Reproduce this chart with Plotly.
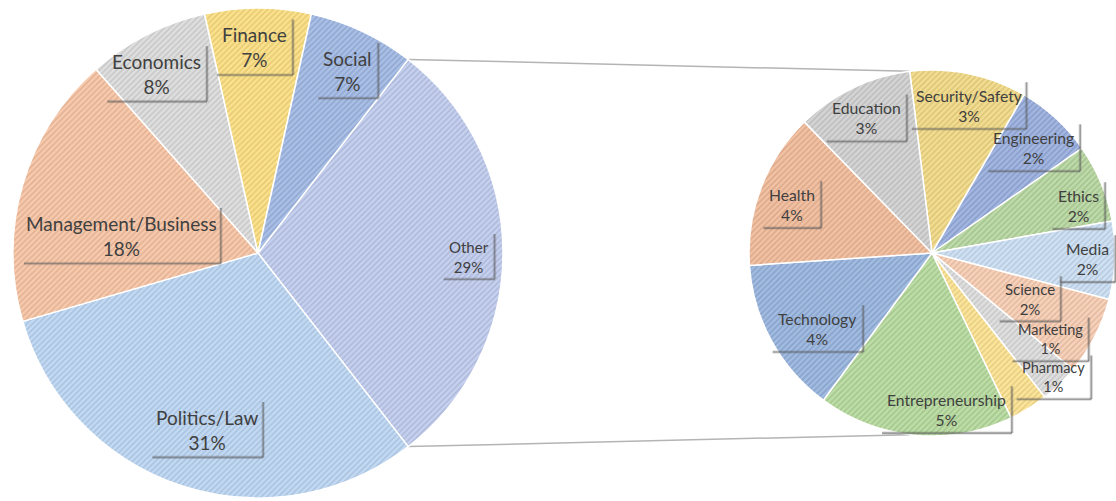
import math
import plotly.graph_objects as go

W, H = 1116, 501

# Main pie: share of all items per field (percent)
main_labels = ["Other", "Politics/Law", "Management/Business", "Economics", "Finance", "Social"]
main_values = [29, 31, 18, 8, 7, 7]
main_colors = ["#b3c1ea", "#afcdf0", "#f6b893", "#d4d4d4", "#fbd869", "#8fabdf"]

# Secondary pie: breakdown of "Other" (percent of all items)
sub_labels = ["Security/Safety", "Engineering", "Ethics", "Media", "Science", "Marketing",
              "Pharmacy", "Entrepreneurship", "Technology", "Health", "Education"]
sub_values = [3, 2, 2, 2, 2, 1, 1, 5, 4, 4, 3]
sub_colors = ["#eed26e", "#869fd8", "#a9cf8d", "#c0d8f0", "#f6c3a4", "#d6d6d6",
              "#fbdc7b", "#a9d38b", "#84a6d8", "#eead87", "#c7c7c7"]

TEXT_COLOR = "#404040"
FONT = "Lato, Carlito, Calibri, sans-serif"
MAIN_FS, SUB_FS = 19, 15.7
FS_OVERRIDE = {"Other": 15, "Science": 15, "Marketing": 14.5, "Pharmacy": 14.5}

# pie geometry (pixels)
MAIN_CX, MAIN_CY, MAIN_R = 258, 253, 245
SUB_CX, SUB_CY, SUB_R = 932, 253, 183
SUB_START = 97  # math angle (deg) where the first secondary slice starts

# label placement: (fraction of radius, angular nudge in degrees)
MAIN_PLACE = {"Other": (0.86, -1), "Politics/Law": (0.75, 2), "Management/Business": (0.56, 9),
              "Economics": (0.84, 2.5), "Finance": (0.84, 1), "Social": (0.83, -1)}
SUB_PLACE = {"Security/Safety": (0.83, -2.4), "Engineering": (0.80, -1.4), "Ethics": (0.84, -4.6),
             "Media": (0.85, 0.2), "Science": (0.59, 2), "Marketing": (0.80, 9.6),
             "Pharmacy": (0.95, 12.5), "Entrepreneurship": (0.86, 10.7), "Technology": (0.75, 4.7),
             "Health": (0.81, 1.9), "Education": (0.82, 0.3)}

CHAR_W = {'a': .50, 'b': .55, 'c': .45, 'd': .55, 'e': .51, 'f': .31, 'g': .49, 'h': .55, 'i': .23,
          'j': .23, 'k': .49, 'l': .23, 'm': .82, 'n': .55, 'o': .55, 'p': .55, 'q': .55, 'r': .36,
          's': .41, 't': .34, 'u': .55, 'v': .49, 'w': .74, 'x': .48, 'y': .49, 'z': .44,
          'E': .55, 'F': .53, 'H': .72, 'M': .88, 'B': .62, 'P': .58, 'S': .52, 'T': .57,
          'O': .76, '/': .34, '%': .75, ' ': .25}


def text_width(s, fs):
    return sum(CHAR_W.get(ch, .57 if ch.isdigit() else .54) for ch in s) * fs


def hex_rgb(c):
    c = c.lstrip("#")
    return [int(c[i:i + 2], 16) for i in (0, 2, 4)]


def rgb_hex(v):
    return "#" + "".join(f"{max(0, min(255, round(x))):02x}" for x in v)


def lighter(c, t=0.25):
    return rgb_hex([x + (255 - x) * t for x in hex_rgb(c)])


def darker(c, t=0.17):
    return rgb_hex([x * (1 - t) for x in hex_rgb(c)])


def domain(cx, cy, r):
    return dict(x=[(cx - r) / W, (cx + r) / W], y=[(H - cy - r) / H, (H - cy + r) / H])


def mid_angles(values, start):
    total = sum(values)
    out, cum = [], 0
    for v in values:
        out.append(start - (cum + v / 2) / total * 360)
        cum += v
    return out


def pie_trace(labels, values, colors, start, cx, cy, r):
    bg = [lighter(c) for c in colors]
    fg = [darker(c) for c in colors]
    return go.Pie(
        labels=labels, values=values, sort=False, direction="clockwise",
        rotation=90 - start, domain=domain(cx, cy, r), textinfo="none",
        hoverinfo="label", showlegend=False,
        marker=dict(colors=bg, line=dict(color="white", width=1.5),
                    pattern=dict(shape="/", fgcolor=fg, bgcolor=bg, size=4,
                                 solidity=0.42, fillmode="overlay")),
    )


main_start = main_values[0] / sum(main_values) * 180  # "Other" centred at 3 o'clock

fig = go.Figure()
fig.add_trace(pie_trace(main_labels, main_values, main_colors, main_start, MAIN_CX, MAIN_CY, MAIN_R))
fig.add_trace(pie_trace(sub_labels, sub_values, sub_colors, SUB_START, SUB_CX, SUB_CY, SUB_R))

shapes, annotations = [], []


def px(x, y):
    return x / W, 1 - y / H


def add_label(label, value, ang, place, cx, cy, r, fs):
    fs = FS_OVERRIDE.get(label, fs)
    frac, nudge = place
    a = math.radians(ang + nudge)
    x = cx + frac * r * math.cos(a)
    y = cy - frac * r * math.sin(a)
    xp, yp = px(x, y)
    annotations.append(dict(x=xp, y=yp, xref="paper", yref="paper", showarrow=False,
                            text=f"{label}<br>{value}%", align="center",
                            xanchor="center", yanchor="middle",
                            font=dict(family=FONT, size=fs, color=TEXT_COLOR)))
    # soft drop shadow on right and bottom of the label box
    w = max(text_width(label, fs), text_width(f"{value}%", fs))
    h = 2 * 1.3 * fs
    left, right = x - w / 2 - 6, x + w / 2 + 7
    top, bottom = y - h / 2 - 3, y + h / 2 + 3
    for width, col in ((3.5, "rgba(90,90,90,0.18)"), (1.6, "rgba(90,90,90,0.5)")):
        for (x0, y0, x1, y1) in ((right, top, right, bottom), (left, bottom, right, bottom)):
            a0, b0 = px(x0, y0)
            a1, b1 = px(x1, y1)
            shapes.append(dict(type="line", xref="paper", yref="paper", x0=a0, y0=b0,
                               x1=a1, y1=b1, line=dict(color=col, width=width), layer="above"))


for lab, val, ang in zip(main_labels, main_values, mid_angles(main_values, main_start)):
    add_label(lab, val, ang, MAIN_PLACE[lab], MAIN_CX, MAIN_CY, MAIN_R, MAIN_FS)
for lab, val, ang in zip(sub_labels, sub_values, mid_angles(sub_values, SUB_START)):
    add_label(lab, val, ang, SUB_PLACE[lab], SUB_CX, SUB_CY, SUB_R, SUB_FS)

# connector lines from the edges of "Other" to the secondary pie
for sgn in (1, -1):
    a = math.radians(sgn * main_start)
    b = math.radians(sgn * SUB_START)
    x0, y0 = px(MAIN_CX + MAIN_R * math.cos(a), MAIN_CY - MAIN_R * math.sin(a))
    x1, y1 = px(SUB_CX + SUB_R * math.cos(b), SUB_CY - SUB_R * math.sin(b))
    shapes.append(dict(type="line", xref="paper", yref="paper", x0=x0, y0=y0, x1=x1, y1=y1,
                       line=dict(color="#b4b4b4", width=1.5), layer="below"))

fig.update_layout(
    width=W, height=H, margin=dict(l=0, r=0, t=0, b=0),
    paper_bgcolor="white", plot_bgcolor="white",
    shapes=shapes, annotations=annotations,
    font=dict(family=FONT, color=TEXT_COLOR),
)

fig.write_html("out.html")
